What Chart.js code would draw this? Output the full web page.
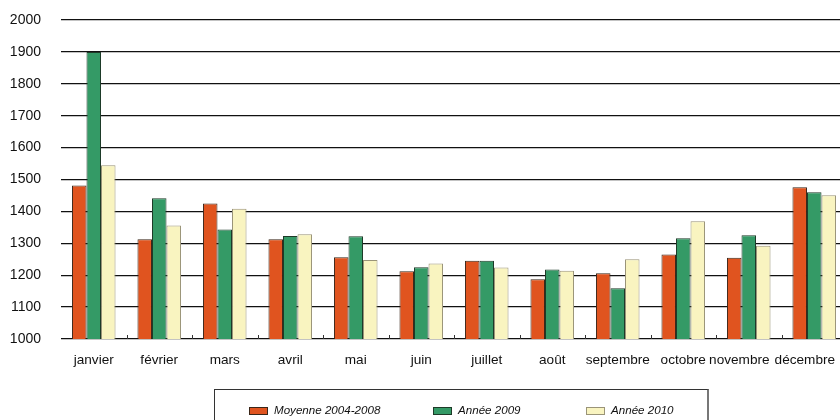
<!DOCTYPE html>
<html>
<head>
<meta charset="utf-8">
<script src="https://cdn.jsdelivr.net/npm/chart.js@4.4.1/dist/chart.umd.min.js"></script>
<style>
  html, body { margin: 0; padding: 0; background: #fff; overflow: hidden; }
  #wrap { position: relative; width: 848px; height: 420px; }
  #legend {
    position: absolute; left: 214px; top: 389px; width: 495px; height: 40px;
    border: 1px solid #333; border-right: 2px solid #777; box-sizing: border-box;
    font-family: "Liberation Sans", Arial, sans-serif; font-style: italic; font-size: 11.6px; color: #111;
  }
  .item { position: absolute; top: 13px; height: 14px; line-height: 14px; white-space: nowrap; }
  .sw { display: inline-block; width: 19px; height: 8px; vertical-align: -0.5px; margin-right: 6px; box-sizing: border-box; border: 1px solid #333; }
</style>
</head>
<body>
<div id="wrap">
  <canvas id="c"></canvas>
  <div id="legend"></div>
</div>
<script>
const categories = ["janvier", "février", "mars", "avril", "mai", "juin", "juillet", "août", "septembre", "octobre", "novembre", "décembre"];
const moyenne2004_2008 = [1481, 1313, 1425, 1313, 1256, 1212, 1245, 1187, 1206, 1265, 1255, 1476];
const annee2009 = [1900, 1441, 1343, 1323, 1322, 1225, 1245, 1218, 1159, 1316, 1325, 1460];
const annee2010 = [1545, 1356, 1408, 1328, 1248, 1237, 1224, 1214, 1250, 1369, 1292, 1451];
const seriesNames = ["Moyenne 2004-2008", "Année 2009", "Année 2010"];
const yTicks = [1000, 1100, 1200, 1300, 1400, 1500, 1600, 1700, 1800, 1900, 2000];

const fills = ["#E0541F", "#349A66", "#F9F4C0"];
const borders = ["#3a2618", "#1e3a28", "#9a9478"];

const innerTicks = {
  id: 'innerTicks',
  afterDatasetsDraw(chart) {
    const x = chart.scales.x, y = chart.scales.y;
    const ctx = chart.ctx;
    const base = y.getPixelForValue(1000);
    ctx.save();
    ctx.strokeStyle = '#333';
    ctx.lineWidth = 1;
    for (let i = 0; i < categories.length - 1; i++) {
      const px = Math.round((x.getPixelForValue(i) + x.getPixelForValue(i + 1)) / 2) + 0.5;
      ctx.beginPath();
      ctx.moveTo(px, base);
      ctx.lineTo(px, base - 4);
      ctx.stroke();
    }
    ctx.restore();
  }
};

const datasets = [moyenne2004_2008, annee2009, annee2010].map((d, i) => ({
  label: seriesNames[i],
  data: d,
  backgroundColor: fills[i],
  borderColor: borders[i],
  borderWidth: 1,
  borderSkipped: 'bottom',
  categoryPercentage: 0.665,
  barPercentage: 1.0
}));

const NB = '\u00a0';
new Chart(document.getElementById('c'), {
  type: 'bar',
  data: { labels: categories, datasets },
  options: {
    responsive: true,
    maintainAspectRatio: false,
    animation: false,
    layout: { padding: { top: 20, right: 1, left: 0, bottom: 0 } },
    plugins: { legend: { display: false }, tooltip: { enabled: false } },
    scales: {
      x: {
        grid: { display: false, drawTicks: false },
        border: { display: false },
        ticks: {
          color: '#111', font: { family: '"Liberation Sans", Arial, sans-serif', size: 13.6 }, padding: 13, maxRotation: 0, autoSkip: false,
          callback: (v, i) => i >= categories.length - 2 ? categories[i] + NB.repeat(5) : categories[i]
        },
        afterFit(s) { s.height = 81; s.paddingLeft = 0; s.paddingRight = 0; }
      },
      y: {
        min: 1000, max: 2000,
        afterBuildTicks(s) { s.ticks = yTicks.map(v => ({ value: v })); },
        grid: { color: '#111', lineWidth: 1.3, drawTicks: false },
        border: { display: false },
        ticks: { color: '#111', font: { family: '"Liberation Sans", Arial, sans-serif', size: 14 }, padding: 20, callback: v => String(v) },
        afterFit(s) { s.width = 61; s.paddingTop = 0; s.paddingBottom = 0; }
      }
    }
  },
  plugins: [innerTicks]
});

const legend = document.getElementById('legend');
const lefts = [34, 218, 371];
seriesNames.forEach((n, i) => {
  const it = document.createElement('div');
  it.className = 'item';
  it.style.left = lefts[i] + 'px';
  const sw = document.createElement('span');
  sw.className = 'sw';
  sw.style.background = fills[i];
  sw.style.borderColor = borders[i];
  it.appendChild(sw);
  it.appendChild(document.createTextNode(n));
  legend.appendChild(it);
});
</script>
</body>
</html>
